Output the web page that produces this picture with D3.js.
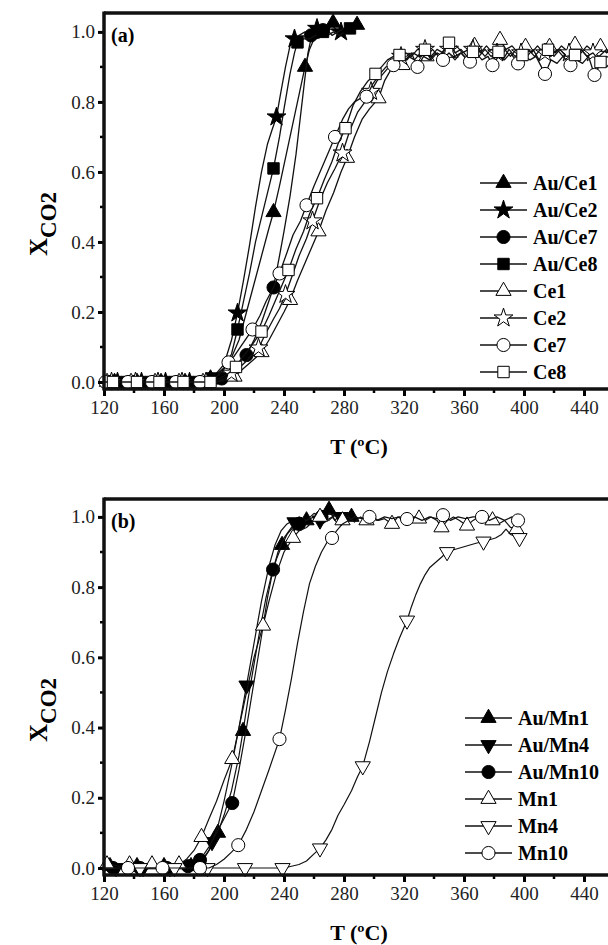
<!DOCTYPE html>
<html><head><meta charset="utf-8">
<script src="https://cdn.jsdelivr.net/npm/d3@7/dist/d3.min.js"></script>
<style>body{margin:0;background:#fff}svg{display:block}</style>
</head><body><svg id="c" width="608" height="945"></svg>
<script>
// ---------- data: panel (a) ----------
const flatA = [[120,0],[135,0],[150,0],[165,0],[180,0]];
const auCe1Line = [[185,0.005],[190,0.01],[195,0.02],[200,0.04],[205,0.07],[210,0.12],[215,0.2],[220,0.28],[225,0.36],[230,0.44],[233,0.485],[237,0.56],[241,0.64],[245,0.72],[249,0.8],[252,0.86],[254,0.9],[257,0.95],[260,0.98],[264,0.99],[268,1.0],[272,1.02],[276,1.0],[280,1.01],[284,1.0],[288,1.02]];
const auCe1Markers = [[127,0],[142,0],[158,0],[174,0],[191,0.01],[233,0.485],[254,0.9],[272.7,1.026],[288.7,1.02]];
const auCe2Line = [[185,0.005],[190,0.01],[195,0.025],[200,0.05],[205,0.12],[209,0.197],[213,0.29],[217,0.39],[221,0.5],[225,0.6],[229,0.68],[232,0.72],[235,0.757],[238,0.83],[241,0.9],[244,0.96],[247,0.98],[250,0.99],[254,1.0],[258,0.99],[262,1.01],[266,1.0],[270,1.01],[275,1.0],[280,1.01],[285,1.0]];
const auCe2Markers = [[129,0],[145,0],[161,0],[177,0],[209,0.197],[235,0.757],[247,0.98],[262,1.01],[278,1.0]];
const auCe7Line = [[190,0],[195,0.005],[198.5,0.01],[203,0.025],[207,0.045],[211,0.06],[215,0.077],[220,0.12],[225,0.17],[229,0.22],[233,0.27],[237,0.36],[240,0.43],[244,0.53],[248,0.65],[251,0.76],[254,0.87],[256,0.94],[258,0.98],[261,1.0],[264,1.0],[268,1.01],[272,0.99],[276,1.0],[280,1.01]];
const auCe7Markers = [[124,0],[140,0],[155,0],[171,0],[187,0],[198.5,0.01],[215,0.077],[233,0.27],[258,0.99],[262,1.0],[266,1.005]];
const auCe8Line = [[185,0],[190,0.01],[195,0.02],[200,0.04],[205,0.08],[209,0.15],[213,0.23],[217,0.31],[221,0.4],[225,0.47],[229,0.54],[233,0.61],[237,0.7],[240,0.78],[244,0.88],[247,0.94],[249,0.97],[253,0.98],[257,0.98],[261,0.99],[265,1.0],[269,0.99],[273,1.0],[277,0.99],[281,1.0],[284,1.01]];
const auCe8Markers = [[132,0],[148,0],[164,0],[180,0],[192,0.01],[209,0.15],[233,0.61],[249,0.97],[266,1.0],[284,1.01]];
const ce1Line = [[190,0],[195,0],[200,0.005],[207,0.015],[212,0.035],[216,0.05],[220,0.065],[225,0.085],[230,0.12],[235,0.16],[240,0.2],[244,0.234],[249,0.29],[254,0.34],[259,0.39],[263,0.43],[268,0.49],[273,0.54],[278,0.6],[282,0.64],[287,0.7],[292,0.75],[297,0.78],[303,0.81],[307,0.86],[311,0.89],[315,0.9],[319,0.905],[323,0.93],[327,0.92],[331,0.94],[335,0.93],[339,0.95],[343,0.93],[347,0.95],[351,0.94],[355,0.96],[359,0.94],[363,0.95],[367,0.96],[371,0.94],[375,0.96],[379,0.94],[384,0.977],[388,0.95],[392,0.96],[396,0.94],[401,0.957],[405,0.94],[409,0.96],[413,0.94],[417,0.957],[421,0.94],[425,0.96],[429,0.945],[434,0.963],[438,0.94],[442,0.96],[446,0.945],[451,0.957],[455,0.94],[460,0.955],[465,0.945]];
const ce1Markers = [[122,0],[138,0],[154,0],[170,0],[186,0],[207,0.015],[225,0.085],[244,0.234],[263,0.43],[282,0.64],[303,0.81],[319,0.905],[335,0.93],[351,0.94],[367,0.96],[384,0.977],[401,0.957],[417,0.957],[434,0.963],[451,0.957]];
const ce2Line = [[195,0],[200,0.01],[205,0.025],[210,0.04],[215,0.06],[219,0.08],[223,0.097],[228,0.14],[233,0.18],[237,0.21],[241,0.25],[246,0.31],[250,0.36],[255,0.41],[259,0.46],[264,0.52],[269,0.57],[274,0.61],[279,0.654],[284,0.72],[289,0.77],[294,0.8],[298,0.83],[302,0.86],[306,0.88],[310,0.9],[314,0.91],[318,0.93],[322,0.92],[326,0.94],[330,0.93],[334,0.95],[338,0.92],[342,0.94],[346,0.93],[350,0.95],[354,0.93],[358,0.94],[362,0.92],[366,0.95],[370,0.93],[374,0.95],[378,0.93],[382,0.94],[386,0.92],[390,0.95],[394,0.93],[398,0.94],[402,0.93],[406,0.95],[410,0.92],[414,0.94],[418,0.93],[422,0.95],[426,0.93],[430,0.94],[434,0.92],[438,0.95],[442,0.93],[446,0.94],[450,0.93],[455,0.95],[460,0.93],[465,0.94]];
const ce2Markers = [[125,0],[141,0],[156,0],[172,0],[188,0],[205,0.025],[223,0.097],[241,0.25],[259,0.46],[279,0.654],[298,0.83],[318,0.93],[334,0.95],[350,0.95],[366,0.95],[382,0.94],[398,0.94],[414,0.94],[430,0.94],[446,0.94]];
const ce7Line = [[190,0.005],[195,0.015],[199,0.03],[203,0.056],[207,0.075],[211,0.1],[215,0.125],[219,0.15],[224,0.19],[228,0.23],[233,0.27],[237,0.31],[242,0.37],[246,0.42],[251,0.46],[255,0.505],[260,0.56],[265,0.61],[270,0.66],[274,0.7],[279,0.75],[283,0.78],[287,0.8],[291,0.81],[295,0.815],[299,0.85],[304,0.88],[308,0.9],[313,0.905],[317,0.93],[321,0.92],[325,0.94],[329,0.9],[333,0.93],[337,0.92],[341,0.94],[346,0.92],[350,0.94],[354,0.92],[358,0.94],[364,0.915],[368,0.94],[372,0.92],[376,0.93],[379,0.905],[383,0.93],[387,0.92],[391,0.94],[396,0.91],[400,0.93],[404,0.92],[408,0.93],[414,0.88],[418,0.92],[422,0.91],[426,0.93],[431,0.905],[435,0.92],[439,0.91],[443,0.93],[447,0.877],[451,0.91],[455,0.9],[460,0.92],[465,0.9]];
const ce7Markers = [[121,0],[136,0],[152,0],[168,0],[184,0],[203,0.056],[219,0.15],[237,0.31],[255,0.505],[274,0.7],[295,0.815],[313,0.905],[329,0.9],[346,0.92],[364,0.915],[379,0.905],[396,0.91],[414,0.88],[431,0.905],[447,0.877]];
const ce8Line = [[190,0],[194,0.005],[198,0.012],[203,0.025],[208,0.043],[212,0.07],[216,0.09],[221,0.12],[225,0.144],[230,0.19],[234,0.23],[239,0.28],[243,0.32],[248,0.38],[253,0.43],[257,0.48],[262,0.525],[267,0.58],[272,0.63],[276,0.68],[281,0.725],[286,0.79],[291,0.83],[296,0.86],[301,0.88],[305,0.9],[309,0.92],[313,0.93],[317,0.934],[321,0.94],[325,0.93],[329,0.95],[334,0.949],[338,0.93],[342,0.95],[346,0.94],[350,0.969],[354,0.94],[358,0.95],[362,0.93],[366,0.943],[370,0.95],[374,0.93],[378,0.95],[383,0.943],[387,0.95],[391,0.93],[395,0.95],[399,0.934],[403,0.95],[407,0.93],[411,0.95],[416,0.949],[420,0.93],[424,0.95],[428,0.93],[434,0.934],[438,0.95],[442,0.93],[446,0.94],[451,0.914],[455,0.93],[460,0.92],[465,0.93]];
const ce8Markers = [[126,0],[142,0],[157,0],[173,0],[191,0],[208,0.043],[225,0.144],[243,0.32],[262,0.525],[281,0.725],[301,0.88],[317,0.934],[334,0.949],[350,0.969],[366,0.943],[383,0.943],[399,0.934],[416,0.949],[434,0.934],[451,0.914]];

// ---------- data: panel (b) ----------
const auMn1Line = [[120,0.005],[130,0],[140,0.005],[150,0],[160,0.005],[170,0],[175,0.005],[180,0.01],[185,0.02],[190,0.05],[195,0.09],[200,0.15],[205,0.22],[210,0.32],[212.7,0.39],[216,0.48],[220,0.58],[224,0.68],[228,0.77],[232,0.84],[235,0.88],[238.7,0.92],[242,0.95],[246,0.97],[250,0.98],[254,0.99],[258,0.985],[262,1.0],[266,1.01],[270,1.02],[274,0.99],[278,1.01],[282,1.0],[286,1.0]];
const auMn1Markers = [[124,0.005],[142,0.005],[160,0.005],[178,0.005],[196,0.1],[212.7,0.39],[238.7,0.92],[255,0.99],[270,1.02],[285,1.0]];
const auMn4Line = [[120,0],[130,0.005],[140,0],[150,0.005],[160,0],[170,0.005],[180,0.005],[185,0.015],[190,0.05],[192,0.074],[196,0.12],[200,0.19],[205,0.29],[210,0.4],[215,0.52],[220,0.64],[225,0.76],[230,0.86],[234,0.92],[238,0.96],[242,0.98],[246,0.99],[250,1.0],[255,0.99],[260,1.01],[265,1.0],[270,0.99],[275,1.01],[280,1.0]];
const auMn4Markers = [[128,0],[146,0],[164,0],[182,0.01],[192,0.074],[215,0.52],[247,0.985],[264,0.99],[278,1.0]];
const auMn10Line = [[120,0],[130,0],[140,0.005],[150,0],[160,0],[170,0],[175,0.005],[180,0.01],[184,0.023],[190,0.06],[195,0.1],[200,0.14],[205.5,0.185],[210,0.28],[215,0.4],[220,0.53],[225,0.66],[229,0.77],[232.7,0.85],[236,0.9],[240,0.94],[245,0.97],[250,0.98],[255,0.99],[260,1.0],[265,0.99],[270,1.01],[275,1.0],[280,1.0]];
const auMn10Markers = [[126,0],[144,0],[162,0],[176,0.005],[184,0.023],[205.5,0.185],[232.7,0.85],[250,0.98],[265,1.0]];
const mn1Line = [[120,0.01],[125,0.01],[130,0.005],[135,0.01],[140,0.005],[145,0.01],[150,0.01],[155,0.005],[160,0.01],[165,0.005],[170,0.01],[175,0.025],[180,0.05],[185,0.088],[190,0.14],[195,0.19],[200,0.25],[205.5,0.31],[210,0.4],[215,0.5],[220,0.6],[226,0.69],[230,0.76],[235,0.84],[240,0.9],[246,0.94],[250,0.96],[255,0.97],[260,0.99],[264,1.0],[268,0.99],[272,1.0],[276,0.98],[279,0.99],[283,1.0],[287,0.985],[291,1.0],[295,0.99],[299,1.0],[303,0.99],[307,0.995],[312,0.98],[316,1.0],[320,0.99],[325,1.0],[330,0.995],[334,0.99],[338,1.0],[342,0.99],[345,0.97],[349,0.99],[353,1.0],[357,0.99],[362,0.975],[366,0.99],[370,1.0],[374,0.99],[379,0.99],[383,0.98],[387,0.99],[391,0.97],[395,0.965],[399,0.955]];
const mn1Markers = [[122,0.01],[137,0.01],[152,0.01],[170,0.01],[185,0.088],[205.5,0.31],[226,0.69],[246,0.94],[264,1.0],[279,0.99],[295,0.99],[312,0.98],[330,0.995],[345,0.97],[362,0.975],[379,0.99],[395,0.965]];
const mn4Line = [[120,0],[130,0],[140,0],[150,0],[160,0],[170,0],[180,0],[190,0],[200,0],[210,0],[220,0],[230,0],[240,0],[245,0.005],[250,0.01],[255,0.02],[260,0.04],[264,0.056],[268,0.08],[272,0.11],[276,0.15],[280,0.18],[285,0.22],[289,0.26],[292.5,0.29],[297,0.36],[301,0.43],[305,0.5],[309,0.56],[313,0.61],[317,0.655],[322,0.705],[325,0.745],[328,0.78],[331,0.81],[334,0.835],[337,0.855],[341,0.87],[345,0.885],[348.7,0.9],[352,0.905],[356,0.91],[360,0.915],[364,0.92],[368,0.925],[373,0.93],[377,0.935],[381,0.94],[385,0.95],[388,0.965],[391,0.95],[394,0.945],[397,0.94]];
const mn4Markers = [[144,0],[167,0],[189,0],[214,0],[239,0],[264,0.056],[292.5,0.29],[322,0.705],[348.7,0.9],[373,0.93],[397,0.94]];
const mn10Line = [[120,0],[130,0],[140,0],[150,0],[160,0],[170,0],[180,0],[190,0],[195,0.01],[200,0.025],[205,0.045],[209.5,0.065],[215,0.11],[220,0.16],[225,0.22],[230,0.28],[237,0.367],[241,0.45],[245,0.54],[249,0.64],[253,0.73],[257,0.81],[261,0.86],[265,0.9],[269,0.93],[272,0.94],[275,0.96],[279,0.98],[283,0.99],[287,1.0],[292,0.995],[297,1.0],[302,0.99],[307,1.0],[312,0.995],[317,1.0],[322,0.994],[327,1.0],[332,0.99],[337,1.0],[342,0.995],[346,1.005],[351,0.99],[356,1.0],[361,0.995],[366,1.0],[372,1.0],[377,0.99],[382,1.0],[387,0.99],[392,1.0],[396,0.99]];
const mn10Markers = [[136,0],[159,0],[184,0],[209.5,0.065],[237,0.367],[272,0.94],[297,1.0],[322,0.994],[346,1.005],[372,1.0],[396,0.99]];

// ---------- tick labels / names ----------
const xTicks = [120,160,200,240,280,320,360,400,440];
const yTicks = [0.0,0.2,0.4,0.6,0.8,1.0];
const namesA = ["Au/Ce1","Au/Ce2","Au/Ce7","Au/Ce8","Ce1","Ce2","Ce7","Ce8"];
const namesB = ["Au/Mn1","Au/Mn4","Au/Mn10","Mn1","Mn4","Mn10"];

const seriesA = [
  {name:namesA[0], line:flatA.concat(auCe1Line), marks:auCe1Markers, sym:"tri", fill:true},
  {name:namesA[1], line:flatA.concat(auCe2Line), marks:auCe2Markers, sym:"star", fill:true},
  {name:namesA[2], line:flatA.concat(auCe7Line), marks:auCe7Markers, sym:"circle", fill:true},
  {name:namesA[3], line:flatA.concat(auCe8Line), marks:auCe8Markers, sym:"square", fill:true},
  {name:namesA[4], line:flatA.concat(ce1Line), marks:ce1Markers, sym:"tri", fill:false},
  {name:namesA[5], line:flatA.concat(ce2Line), marks:ce2Markers, sym:"star", fill:false},
  {name:namesA[6], line:flatA.concat(ce7Line), marks:ce7Markers, sym:"circle", fill:false},
  {name:namesA[7], line:flatA.concat(ce8Line), marks:ce8Markers, sym:"square", fill:false}
];
const seriesB = [
  {name:namesB[0], line:auMn1Line, marks:auMn1Markers, sym:"tri", fill:true},
  {name:namesB[1], line:auMn4Line, marks:auMn4Markers, sym:"tridown", fill:true},
  {name:namesB[2], line:auMn10Line, marks:auMn10Markers, sym:"circle", fill:true},
  {name:namesB[3], line:mn1Line, marks:mn1Markers, sym:"tri", fill:false},
  {name:namesB[4], line:mn4Line, marks:mn4Markers, sym:"tridown", fill:false},
  {name:namesB[5], line:mn10Line, marks:mn10Markers, sym:"circle", fill:false}
];

const svg = d3.select("#c");
const FONT = "'Liberation Serif','Times New Roman',serif";

function symPath(s){
  if(s==="tri") return d3.symbol(d3.symbolTriangle, 100)();
  if(s==="tridown") return d3.symbol(d3.symbolTriangle, 100)();
  if(s==="star") return d3.symbol(d3.symbolStar, 110)();
  if(s==="circle") return d3.symbol(d3.symbolCircle, 135)();
  return d3.symbol(d3.symbolSquare, 130)();
}
function drawMark(g, s, fill, x, y){
  g.append("path").attr("d", symPath(s))
    .attr("transform", `translate(${x},${y})` + (s==="tridown" ? " rotate(180)" : ""))
    .attr("fill", fill ? "#000" : "#fff").attr("stroke","#000").attr("stroke-width",1);
}

function panel(cfg){
  const x = d3.scaleLinear().domain([120, 470]).range([104, 629]);
  const y = d3.scaleLinear().domain([-0.02, cfg.ytop]).range([cfg.yb, cfg.yt]);
  const g = svg.append("g");
  const line = d3.line().x(d=>x(d[0])).y(d=>y(d[1]));
  cfg.series.forEach(s=>{
    g.append("path").datum(s.line).attr("d", line).attr("fill","none")
      .attr("stroke","#111").attr("stroke-width", cfg.lw).attr("stroke-linejoin","round");
    s.marks.forEach(m=>drawMark(g, s.sym, s.fill, x(m[0]), y(m[1])));
  });
  // axes
  const ax = svg.append("g");
  const xAxis = d3.axisBottom(x).tickValues(xTicks).tickSize(7).tickPadding(5).tickFormat(d3.format("d"));
  const xa = ax.append("g").attr("transform",`translate(0,${cfg.yb})`).call(xAxis);
  xa.select(".domain").remove();
  xa.selectAll(".tick line").attr("stroke","#000").attr("stroke-width",3);
  xa.selectAll(".tick text").attr("font-family",FONT).attr("font-size",19).attr("fill","#222");
  const xMinor = d3.range(140, 470, 40);
  ax.selectAll(null).data(xMinor).enter().append("line")
    .attr("x1",d=>x(d)).attr("x2",d=>x(d)).attr("y1",cfg.yb).attr("y2",cfg.yb+4)
    .attr("stroke","#000").attr("stroke-width",2.5);
  const yAxis = d3.axisLeft(y).tickValues(yTicks).tickSize(6).tickPadding(3).tickFormat(d3.format(".1f"));
  const ya = ax.append("g").attr("transform",`translate(104,0)`).call(yAxis);
  ya.select(".domain").remove();
  ya.selectAll(".tick line").attr("stroke","#000").attr("stroke-width",3);
  ya.selectAll(".tick text").attr("font-family",FONT).attr("font-size",19).attr("fill","#222");
  const yMinor = [0.1,0.3,0.5,0.7,0.9];
  ax.selectAll(null).data(yMinor).enter().append("line")
    .attr("x1",100).attr("x2",104).attr("y1",d=>y(d)).attr("y2",d=>y(d))
    .attr("stroke","#000").attr("stroke-width",2.5);
  // frame lines
  ax.append("line").attr("x1",104).attr("x2",608).attr("y1",cfg.yb).attr("y2",cfg.yb).attr("stroke","#111").attr("stroke-width",3.5);
  ax.append("line").attr("x1",104).attr("x2",608).attr("y1",cfg.yt).attr("y2",cfg.yt).attr("stroke","#111").attr("stroke-width",3.5);
  ax.append("line").attr("x1",104).attr("x2",104).attr("y1",cfg.yt-1.5).attr("y2",cfg.yb+1.5).attr("stroke","#111").attr("stroke-width",3.5);
  // panel label
  ax.append("text").attr("x",111).attr("y",cfg.yt+29).attr("font-family",FONT).attr("font-weight","bold")
    .attr("font-size",20).text(cfg.label);
  // x title
  ax.append("text").attr("x",359).attr("y",cfg.yb+65).attr("text-anchor","middle").attr("font-family",FONT)
    .attr("font-weight","bold").attr("font-size",22).text("T (ºC)");
  // y title
  const yt = ax.append("text").attr("transform",`translate(47,${cfg.ylab}) rotate(-90)`).attr("text-anchor","middle")
    .attr("font-family",FONT).attr("font-weight","bold");
  yt.append("tspan").attr("font-size",25).text("X");
  yt.append("tspan").attr("font-size",23).attr("dy",9).text("CO2");
  // legend
  const lg = svg.append("g");
  cfg.series.forEach((s,i)=>{
    const ly = cfg.legY + i*cfg.legDy;
    lg.append("line").attr("x1",cfg.legX).attr("x2",cfg.legX+47).attr("y1",ly).attr("y2",ly).attr("stroke","#111").attr("stroke-width",1.6);
    drawMark(lg, s.sym, s.fill, cfg.legX+23.5, ly);
    lg.append("text").attr("x",cfg.legX+53).attr("y",ly+7).attr("font-family",FONT).attr("font-weight","bold")
      .attr("font-size",20).text(s.name);
  });
}

panel({series:seriesA, yb:389, yt:13, ytop:1.054, label:"(a)", ylab:224, legX:480, legY:183, legDy:27, lw:1.3});
panel({series:seriesB, yb:875, yt:499, ytop:1.051, label:"(b)", ylab:710, legX:465, legY:718, legDy:27, lw:1.2});
</script></body></html>
